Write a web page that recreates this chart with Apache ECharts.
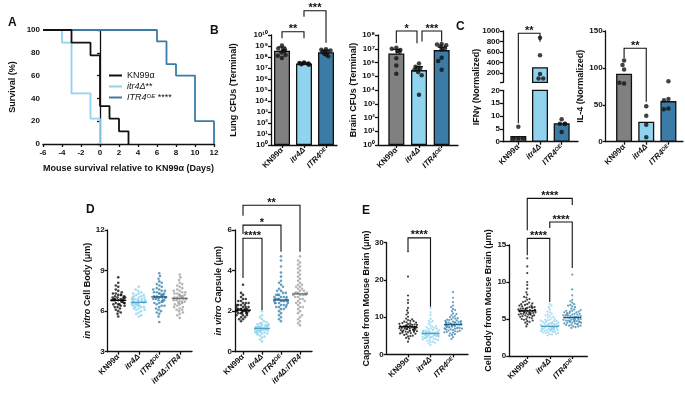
<!DOCTYPE html>
<html>
<head>
<meta charset="utf-8">
<script src="https://cdn.jsdelivr.net/npm/echarts@6/dist/echarts.min.js"></script>
<style>
html, body { margin: 0; background: #fff; }
#main { width: 685px; height: 396px; }
</style>
</head>
<body>
<div id="main"></div>
<script>
// ---- data ----
// A: survival curves (day, percent)
var kn99Days = [-6, -3, -1, 0, 1, 2, 3];
var kn99Surv = [100, 88.9, 77.8, 33.3, 22.2, 11.1, 0];
var itr4Days = [-6, -4, -3, -1, 0];
var itr4Surv = [100, 88.9, 44.4, 22.2, 0];
var oeDays = [-6, 6, 7, 8, 10, 12];
var oeSurv = [100, 90, 70, 60, 20, 0];

var cats3 = ['KN99α', 'itr4Δ', 'ITR4OE'];
var cats4 = ['KN99α', 'itr4Δ', 'ITR4OE', 'itr4Δ:ITR4'];

// B: CFUs
var lungMean = [3.7e8, 2.5e7, 2.7e8];
var lungSd = [8e8, 3.0e7, 4.2e8];
var lungKN = [1.1e9, 6e8, 5e8, 4e8, 3.5e8, 2.5e8, 1.5e8, 8e7, 1.3e8];
var lungItr = [3.2e7, 2.8e7, 2.5e7, 2.2e7, 2.0e7, 2.6e7, 2.9e7, 2.3e7];
var lungOE = [5e8, 4.5e8, 3.8e8, 3e8, 2.5e8, 2e8, 1.6e8, 1.2e8, 2.8e8];
var brainMean = [4.6e6, 2.8e5, 8e6];
var brainSd = [9e6, 5e5, 1.3e7];
var brainKN = [1.2e7, 1e7, 8e6, 7e6, 6e6, 2e6, 6e5, 1.5e5];
var brainItr = [8.5e5, 5e5, 4e5, 3.5e5, 3e5, 2e5, 1.2e5, 4.5e3];
var brainOE = [2.2e7, 2e7, 1.8e7, 1.5e7, 1.1e7, 9e6, 2.2e6, 1.3e6, 3e5];
var logTicks = [1, 1e1, 1e2, 1e3, 1e4, 1e5, 1e6, 1e7, 1e8, 1e9, 1e10];

// C: cytokines
var ifnMean = [2.2, 310, 7.2];
var ifnKN = [5.8, 1.3, 1.3, 1.3];
var ifnItr = [870, 540, 180, 95, 95];
var ifnOE = [8.7, 7.0, 6.9, 7.0, 3.8];
var ifnUpperTicks = [200, 400, 600, 800, 1000];
var il4Mean = [92, 27, 55];
var il4KN = [110, 104, 98, 79, 80];
var il4Itr = [48, 35, 23, 6];
var il4OE = [82, 58, 56, 45, 44];

// D: in vitro (um)
var dBodyKN = [6.8,7.0,6.5,7.2,6.9,6.3,7.5,6.6,7.1,6.8,6.4,7.8,6.9,6.2,7.3,6.7,8.5,6.0,7.0,6.8,5.6,7.6,6.5,6.9,7.2,6.1,7.4,6.6,5.8,7.0,6.8,6.3,8.1,6.7,7.1,6.5,7.9,6.9,6.4,7.3,5.9,6.8,7.0,6.6,7.2];
var dBodyItr = [6.6,6.8,6.4,7.0,6.7,6.2,7.3,6.5,6.9,6.6,6.1,7.5,6.8,6.3,7.1,6.7,7.8,5.9,6.9,6.6,5.6,7.2,6.5,6.7,7.0,6.0,7.4,6.4,5.8,6.9,6.6,6.3,7.6,6.5,6.8,6.2,7.1,6.7,6.4,7.0,5.7,6.6,6.9,6.5,7.2,6.3,6.8,6.1,7.3,6.6];
var dBodyOE = [7.0,7.3,6.6,7.6,7.1,6.3,7.9,6.8,7.2,7.0,6.1,8.2,7.4,6.5,7.7,7.1,8.8,5.8,7.3,6.9,5.2,8.0,6.7,7.0,7.5,6.0,8.4,6.8,5.6,7.2,7.0,6.4,8.6,6.9,7.4,6.6,7.8,7.1,6.2,7.5,5.9,7.0,7.3,6.7,7.6,6.4,7.2,6.8,8.1,7.0];
var dBodyComp = [6.9,7.2,6.5,7.5,7.0,6.2,7.8,6.7,7.1,6.9,6.0,8.1,7.3,6.4,7.6,7.0,8.7,5.8,7.2,6.8,5.5,7.9,6.6,6.9,7.4,6.1,8.3,6.7,5.7,7.1,6.9,6.3,8.5,6.8,7.3,6.5,7.7,7.0,6.1,7.4,5.9,6.9,7.2,6.6,7.5,6.3,7.1,6.7,8.0,6.9];
var dBodyMed = [6.8, 6.65, 7.05, 6.95];
var dCapKN = [2.0,2.2,1.9,2.4,2.1,1.8,2.6,2.0,2.3,2.1,1.7,2.8,2.2,1.9,2.5,2.0,3.3,1.6,2.3,2.1,1.5,2.7,1.9,2.0,2.4,1.7,2.9,2.1,1.8,2.2,2.0,1.9,2.6,2.1,2.3,1.8,2.5,2.0,1.9,2.4,1.6,2.1,2.2,2.0,2.3];
var dCapItr = [1.1,1.2,1.0,1.3,1.15,0.9,1.4,1.05,1.25,1.1,0.8,1.6,1.2,0.95,1.35,1.1,2.0,0.7,1.2,1.1,0.5,1.5,1.0,1.1,1.3,0.85,1.7,1.05,0.75,1.2,1.1,0.9,1.45,1.15,1.25,0.95,1.4,1.1,1.0,1.3,0.6,1.15,1.2,1.05,1.35,0.9,1.25,1.0,1.8,1.1];
var dCapOE = [2.5,2.7,2.3,3.0,2.6,2.1,3.3,2.4,2.8,2.5,1.9,3.7,2.7,2.2,3.1,2.6,4.7,1.8,2.8,2.5,1.5,3.5,2.3,2.5,2.9,2.0,4.2,2.4,1.7,2.7,2.5,2.2,4.5,2.6,2.9,2.3,3.4,2.6,2.1,3.0,1.6,2.5,2.8,2.4,3.2,2.2,2.7,2.4,3.9,2.6];
var dCapComp = [2.8,3.2,2.4,3.6,2.9,2.0,4.0,2.6,3.3,2.8,1.7,4.4,3.0,2.2,3.8,2.9,4.7,1.5,3.1,2.7,1.3,4.2,2.5,2.8,3.5,1.9,4.5,2.6,1.6,3.1,2.9,2.3,4.1,2.7,3.4,2.1,3.7,2.9,1.8,3.3,1.4,2.8,3.2,2.5,3.9,2.2,3.0,2.4,4.3,2.85];
var dCapMed = [2.05, 1.15, 2.55, 2.85];

// E: mouse brain (um)
var eCapKN = [7.4,6.8,8.1,5.9,7.0,9.2,6.3,7.7,5.4,8.6,6.9,7.2,10.1,6.1,7.5,4.8,8.3,6.6,7.9,5.7,11.2,7.1,6.4,8.8,5.2,7.3,9.6,6.0,7.6,4.4,8.0,6.7,12.5,7.2,5.8,9.0,6.5,7.8,3.4,8.4,6.2,7.4,10.7,5.5,7.0,13.8,6.8,8.2,4.9,7.5,15.8,6.3,9.4,5.6,7.1,20.9,6.9,8.5,5.0,7.7,27.7,6.6,14.6,7.3,6.1,8.9,4.2,7.9,11.8,6.4];
var eCapItr = [5.6,5.1,6.2,4.5,5.8,7.0,4.8,6.0,3.9,6.6,5.3,5.7,7.8,4.6,5.9,3.3,6.4,5.0,6.1,4.2,8.6,5.5,4.9,6.8,3.6,5.4,7.4,4.4,5.9,2.9,6.3,5.2,9.5,5.7,4.1,7.1,5.0,6.0,2.5,6.5,4.7,5.6,8.2,4.0,5.4,10.6,5.2,6.3,3.4,5.8,12.4,4.8,7.3,4.3,5.5,9.0,5.3,6.6,3.8,5.9,11.3,5.1,7.6,5.6,4.6,6.9,3.1,6.1,8.9,4.9];
var eCapOE = [8.0,7.4,8.8,6.5,8.3,9.9,6.9,8.6,5.8,9.4,7.6,8.1,11.0,6.7,8.5,5.2,9.1,7.2,8.7,6.2,12.2,7.9,7.0,9.6,5.6,8.0,10.5,6.4,8.4,4.6,8.9,7.3,13.1,7.8,6.1,10.0,7.1,8.5,4.1,9.2,6.8,8.0,11.6,6.0,7.7,14.0,7.5,9.0,5.4,8.2,16.7,6.9,10.3,6.3,7.9,12.7,7.4,9.3,5.9,8.4,15.2,7.2,10.8,8.1,6.6,9.7,5.0,8.7,11.9,7.0];
var eCapMed = [7.4, 5.6, 8.0];
var eBodyKN = [6.1,5.8,6.5,5.3,6.3,7.0,5.6,6.6,5.0,6.9,5.9,6.2,7.6,5.5,6.4,4.7,6.8,5.7,6.5,5.2,8.3,6.0,5.6,7.2,4.9,6.1,7.9,5.4,6.4,4.3,6.7,5.8,9.1,6.2,5.1,7.4,5.7,6.6,4.0,7.0,5.5,6.1,8.6,5.0,6.0,10.0,5.9,6.8,4.6,6.3,11.2,5.6,7.7,5.3,6.2,13.2,5.9,7.1,4.8,6.4,12.1,5.8,9.6,6.1,5.4,7.3,4.5,6.6,8.0,5.7];
var eBodyItr = [4.0,3.7,4.4,3.4,4.2,4.9,3.6,4.5,3.2,4.8,3.9,4.1,5.4,3.5,4.3,3.0,4.7,3.8,4.4,3.3,5.9,4.0,3.6,5.1,3.1,4.0,5.6,3.4,4.3,2.8,4.6,3.8,6.3,4.1,3.3,5.2,3.7,4.5,2.9,4.9,3.5,4.0,6.0,3.2,3.9,7.0,3.8,4.7,3.0,4.2,6.6,3.6,5.3,3.4,4.1,5.7,3.9,4.8,3.1,4.3,6.8,3.7,5.0,4.0,3.5,4.6,3.3,4.4,5.5,3.6];
var eBodyOE = [5.2,4.9,5.6,4.5,5.4,6.1,4.7,5.7,4.2,6.0,5.0,5.3,6.7,4.6,5.5,4.0,5.9,4.8,5.6,4.4,7.2,5.1,4.7,6.3,4.1,5.2,6.9,4.5,5.5,3.8,5.8,4.9,7.6,5.3,4.3,6.4,4.8,5.7,3.9,6.1,4.6,5.2,7.0,4.2,5.0,9.0,4.9,5.9,4.0,5.4,11.0,4.7,6.6,4.4,5.3,8.2,5.0,6.0,4.1,5.5,7.4,4.8,6.2,5.1,4.5,5.8,4.3,5.6,6.8,4.6];
var eBodyMed = [6.1, 4.0, 5.2];

// significance brackets: [fromCat, toCat, yBar, yLeftLeg, yRightLeg, text, dxLeft, dxRight]
var lungSig = [[0, 1, 2e10, 5e9, 5e9, '**', 0, 0], [1, 2, 1.6e12, 4.6e11, 2e9, '***', 0, 0]];
var brainSig = [[0, 1, 1.95e8, 2.6e7, 2.5e7, '*', 0, -2], [1, 2, 1.95e8, 3.3e7, 3.3e7, '***', 3, 0]];
var ifnSig = [[0, 1, 42.2, 7.2, 38.9, '**', 0, 0]];
var il4Sig = [[0, 1, 126.6, 113, 54, '**', 0, 0]];
var dCapSig = [[0, 1, 5.59, 3.63, 2.05, '****', 0, 0], [0, 2, 6.24, 5.8, 4.93, '*', 0, 0], [0, 3, 7.22, 6.7, 4.93, '**', 0, 0]];
var eCapSig = [[0, 1, 31.3, 28, 12.8, '****', 0, 0]];
var eBodySig = [[0, 1, 15.9, 13.6, 7.3, '****', 0, 0], [1, 2, 18.1, 17.3, 11.9, '****', 0, 0], [0, 2, 21.3, 17, 20.4, '****', 0, 0]];

// ---- styling ----
var FONT = 'Liberation Sans';
var INK = '#111';
var GRAY = '#808080', LIGHT = '#8fd3ef', TEAL = '#3a7ca5', COMP = '#a3a3a3';
var DOT = [INK, LIGHT, '#3f87b2', COMP];
var MED = ['#000', '#4f9fc4', '#1d5a80', '#6a6a6a'];
var AX = {color: INK, width: 1.3};
var RICH = {
  n: {fontFamily: FONT, fontSize: 8, fontWeight: 'bold', color: INK},
  i: {fontFamily: FONT, fontSize: 8, fontWeight: 'bold', fontStyle: 'italic', color: INK},
  s: {fontFamily: FONT, fontSize: 5.5, fontWeight: 'bold', fontStyle: 'italic', color: INK, verticalAlign: 'top'},
  t: {fontFamily: FONT, fontSize: 9, fontWeight: 'bold', color: INK},
  ti: {fontFamily: FONT, fontSize: 9, fontWeight: 'bold', fontStyle: 'italic', color: INK}
};
var CAT_LABEL = {
  'KN99α': '{n|KN99α}',
  'itr4Δ': '{i|itr4Δ}',
  'ITR4OE': '{i|ITR4}{s|OE}',
  'itr4Δ:ITR4': '{i|itr4Δ:ITR4}'
};
var SUP = '⁰¹²³⁴⁵⁶⁷⁸⁹';
function logFmt(v) {
  var e = String(Math.round(Math.log10(v)));
  var s = '';
  for (var k = 0; k < e.length; k++) s += SUP[+e[k]];
  return '10' + s;
}
function plainFmt(v) { return String(v); }

var grids = [], xAxes = [], yAxes = [], series = [];

// frame grid: draws the visible y axis and the x axis line
function addFrame(x0, x1, top, bottom, y, showX) {
  grids.push({left: x0, top: top, width: x1 - x0, height: bottom - top});
  var gi = grids.length - 1;
  xAxes.push({gridIndex: gi, type: 'value', min: 0, max: 1, show: showX !== false,
    axisLine: {lineStyle: AX}, axisTick: {show: false}, axisLabel: {show: false}, splitLine: {show: false}});
  yAxes.push({gridIndex: gi, type: y.type || 'value', logBase: 10, min: y.min, max: y.max, interval: y.interval,
    name: y.name || '', nameLocation: 'middle', nameGap: y.gap || 20, nameRotate: 90,
    nameTextStyle: {fontFamily: FONT, fontSize: 9, fontWeight: 'bold', color: INK, rich: RICH, padding: y.namePad || 0},
    axisLine: {show: true, lineStyle: AX},
    axisTick: {show: true, length: 3, lineStyle: AX, customValues: y.ticks},
    axisLabel: {fontFamily: FONT, fontSize: 8, fontWeight: 'bold', color: INK, margin: 3,
      formatter: y.fmt || plainFmt, customValues: y.labels},
    splitLine: {show: false}});
  return gi;
}

// data grid: categories, ticks and marks
function addData(x0, w, top, bottom, cats, y, jitter, hideX) {
  grids.push({left: x0, top: top, width: w, height: bottom - top});
  var gi = grids.length - 1;
  xAxes.push({gridIndex: gi, type: 'category', data: cats, show: !hideX,
    jitter: jitter || 0, jitterOverlap: false, jitterMargin: 0.2,
    axisLine: {show: false},
    axisTick: {show: true, alignWithLabel: true, length: 3, lineStyle: AX},
    axisLabel: {rotate: 45, margin: 4, interval: 0, formatter: function (v) { return CAT_LABEL[v]; }, rich: RICH}});
  yAxes.push({gridIndex: gi, type: y.type || 'value', logBase: 10, min: y.min, max: y.max, show: false});
  return gi;
}

function pts(groups) {
  var out = [];
  groups.forEach(function (g, ci) {
    g.forEach(function (v) { out.push([ci, v]); });
  });
  return out;
}

function dots(gi, groups, size, colors) {
  series.push({type: 'scatter', xAxisIndex: gi, yAxisIndex: gi, symbolSize: size, z: 5,
    data: pts(groups).map(function (p) { return {value: p, itemStyle: {color: colors[p[0]]}}; })});
}

function bars(gi, means, colors) {
  series.push({type: 'bar', xAxisIndex: gi, yAxisIndex: gi, barWidth: 16, clip: true,
    data: means.map(function (v, i) {
      return {value: v, itemStyle: {color: colors[i], borderColor: INK, borderWidth: 1.3}};
    })});
}

function errBars(gi, means, tops) {
  series.push({type: 'custom', xAxisIndex: gi, yAxisIndex: gi, z: 6, silent: true,
    data: means.map(function (m, i) { return [i, m, tops[i]]; }),
    renderItem: function (params, api) {
      var a = api.coord([api.value(0), api.value(1)]);
      var b = api.coord([api.value(0), api.value(2)]);
      return {type: 'group', children: [
        {type: 'line', shape: {x1: a[0], y1: a[1], x2: b[0], y2: b[1]}, style: {stroke: INK, lineWidth: 1.2}},
        {type: 'line', shape: {x1: b[0] - 4, y1: b[1], x2: b[0] + 4, y2: b[1]}, style: {stroke: INK, lineWidth: 1.2}}
      ]};
    }});
}

function medians(gi, meds, half) {
  series.push({type: 'custom', xAxisIndex: gi, yAxisIndex: gi, z: 7, silent: true,
    data: meds.map(function (m, i) { return [i, m]; }),
    renderItem: function (params, api) {
      var c = api.coord([api.value(0), api.value(1)]);
      return {type: 'line', shape: {x1: c[0] - half, y1: c[1], x2: c[0] + half, y2: c[1]},
        style: {stroke: MED[params.dataIndex], lineWidth: 1.3}};
    }});
}

function brackets(gi, list) {
  series.push({type: 'custom', xAxisIndex: gi, yAxisIndex: gi, z: 8, silent: true, clip: false,
    data: list.map(function (b) { return [b[0], b[2]]; }),
    renderItem: function (params, api) {
      var b = list[params.dataIndex];
      var p0 = api.coord([b[0], b[2]]), p1 = api.coord([b[1], b[2]]);
      var l = api.coord([b[0], b[3]]), r = api.coord([b[1], b[4]]);
      var x0 = p0[0] + b[6], x1 = p1[0] + b[7];
      return {type: 'group', children: [
        {type: 'polyline', shape: {points: [[x0, l[1]], [x0, p0[1]], [x1, p0[1]], [x1, r[1]]]},
          style: {stroke: INK, lineWidth: 1.1, fill: null}},
        {type: 'text', style: {text: b[5], x: (x0 + x1) / 2, y: p0[1] + 3, align: 'center', verticalAlign: 'bottom',
          fontFamily: FONT, fontSize: 11, fontWeight: 'bold', fill: INK}}
      ]};
    }});
}

// ---- A: survival ----
grids.push({left: 43, top: 30, width: 171, height: 114});
xAxes.push({gridIndex: 0, type: 'value', min: -6, max: 12, interval: 2,
  name: 'Mouse survival relative to KN99α (Days)', nameLocation: 'middle', nameGap: 20,
  nameTextStyle: {fontFamily: FONT, fontSize: 9, fontWeight: 'bold', color: INK},
  axisLine: {lineStyle: AX}, axisTick: {length: 3, lineStyle: AX},
  axisLabel: {fontFamily: FONT, fontSize: 8, fontWeight: 'bold', color: INK, margin: 5}, splitLine: {show: false}});
yAxes.push({gridIndex: 0, type: 'value', min: 0, max: 100, interval: 20,
  name: 'Survival (%)', nameLocation: 'middle', nameGap: 26, nameRotate: 90,
  nameTextStyle: {fontFamily: FONT, fontSize: 9, fontWeight: 'bold', color: INK},
  axisLine: {show: true, lineStyle: AX}, axisTick: {show: true, length: 3, lineStyle: AX},
  axisLabel: {fontFamily: FONT, fontSize: 8, fontWeight: 'bold', color: INK, margin: 3}, splitLine: {show: false}});

function curve(name, d, s, color, z) {
  series.push({type: 'line', name: name, xAxisIndex: 0, yAxisIndex: 0, step: 'end', symbol: 'none', z: z,
    lineStyle: {color: color, width: 1.8}, itemStyle: {color: color},
    data: d.map(function (x, i) { return [x, s[i]]; })});
}
curve('ITR4OE', oeDays, oeSurv, TEAL, 2);
curve('itr4Δ', itr4Days, itr4Surv, LIGHT, 3);
curve('KN99α', kn99Days, kn99Surv, INK, 4);

// ---- B: lung / brain ----
addFrame(271, 337, 35, 145, {type: 'log', min: 1, max: 1e10, labels: logTicks, ticks: logTicks, fmt: logFmt,
  name: 'Lung CFUs (Terminal)', gap: 33});
var gLung = addData(271, 66, 35, 145, cats3, {type: 'log', min: 1, max: 1e10}, 11);
bars(gLung, lungMean, [GRAY, LIGHT, TEAL]);
errBars(gLung, lungMean, lungSd);
dots(gLung, [lungKN, lungItr, lungOE], 4.5, [INK, INK, INK]);
brackets(gLung, lungSig);

addFrame(378, 458, 35, 145, {type: 'log', min: 1, max: 1e8, labels: logTicks.slice(0, 9), ticks: logTicks.slice(0, 9), fmt: logFmt,
  name: 'Brain CFUs (Terminal)', gap: 20});
var gBrain = addData(385, 68, 35, 145, cats3, {type: 'log', min: 1, max: 1e8}, 11);
bars(gBrain, brainMean, [GRAY, LIGHT, TEAL]);
errBars(gBrain, brainMean, brainSd);
dots(gBrain, [brainKN, brainItr, brainOE], 4.5, [INK, INK, INK]);
brackets(gBrain, brainSig);

// ---- C: IFNg (broken axis) / IL-4 ----
addFrame(503, 578, 31, 82.4, {min: 20, max: 1000, labels: ifnUpperTicks, ticks: [20].concat(ifnUpperTicks)}, false);
var gIfnU = addData(507.5, 65, 31, 82.4, cats3, {min: 20, max: 1000}, 10, true);
bars(gIfnU, ifnMean, [GRAY, LIGHT, TEAL]);
dots(gIfnU, [[], ifnItr, []], 4.5, [INK, INK, INK]);
addFrame(503, 578, 90.3, 141.7, {min: 0, max: 20, interval: 5, name: 'IFNγ (Normalized)', gap: 22, namePad: [0, 0, 0, 58]});
var gIfn = addData(507.5, 65, 90.3, 141.7, cats3, {min: 0, max: 20}, 10);
bars(gIfn, ifnMean, [GRAY, LIGHT, TEAL]);
dots(gIfn, [ifnKN, [], ifnOE], 4.5, [INK, INK, INK]);
brackets(gIfn, ifnSig);

addFrame(605.7, 683, 31, 141.7, {min: 0, max: 150, interval: 50, name: 'IL-4 (Normalized)', gap: 17});
var gIl4 = addData(613, 66.5, 31, 141.7, cats3, {min: 0, max: 150}, 10);
bars(gIl4, il4Mean, [GRAY, LIGHT, TEAL]);
dots(gIl4, [il4KN, il4Itr, il4OE], 4.5, [INK, INK, INK]);
brackets(gIl4, il4Sig);

// ---- D: in vitro ----
addFrame(107.7, 192, 230, 351.7, {min: 3, max: 12, interval: 3, name: '{ti|in vitro} {t|Cell Body (μm)}', gap: 14});
var gDb = addData(108, 82, 230, 351.7, cats4, {min: 3, max: 12}, 14);
dots(gDb, [dBodyKN, dBodyItr, dBodyOE, dBodyComp], 2.6, DOT);
medians(gDb, dBodyMed, 8);

addFrame(235, 312, 230, 351.7, {min: 0, max: 6, interval: 2, name: '{ti|in vitro} {t|Capsule (μm)}', gap: 12});
var gDc = addData(233.5, 76, 230, 351.7, cats4, {min: 0, max: 6}, 14);
dots(gDc, [dCapKN, dCapItr, dCapOE, dCapComp], 2.6, DOT);
medians(gDc, dCapMed, 8);
brackets(gDc, dCapSig);

// ---- E: mouse brain ----
addFrame(386.7, 468, 242.7, 354.3, {min: 0, max: 30, interval: 10, name: 'Capsule from Mouse Brain (μm)', gap: 12});
var gEc = addData(396.75, 67.5, 242.7, 354.3, cats3, {min: 0, max: 30}, 18);
dots(gEc, [eCapKN, eCapItr, eCapOE], 2.2, DOT);
medians(gEc, eCapMed, 9);
brackets(gEc, eCapSig);

addFrame(509.3, 587.3, 245, 356, {min: 0, max: 15, interval: 5, name: 'Cell Body from Mouse Brain (μm)', gap: 12});
var gEb = addData(516, 67.5, 245, 356, cats3, {min: 0, max: 15}, 18);
dots(gEb, [eBodyKN, eBodyItr, eBodyOE], 2.2, DOT);
medians(gEb, eBodyMed, 9);
brackets(gEb, eBodySig);

var letter = {fontFamily: FONT, fontSize: 12, fontWeight: 'bold', color: INK};
var option = {
  animation: false,
  backgroundColor: '#fff',
  title: [
    {text: 'A', left: 3, top: 12, textStyle: letter},
    {text: 'B', left: 205, top: 20, textStyle: letter},
    {text: 'C', left: 451, top: 16, textStyle: letter},
    {text: 'D', left: 81, top: 199, textStyle: letter},
    {text: 'E', left: 357, top: 200, textStyle: letter}
  ],
  legend: {
    orient: 'vertical', left: 104, top: 66, itemWidth: 13, itemHeight: 2, itemGap: 2, icon: 'rect',
    data: ['KN99α', 'itr4Δ', 'ITR4OE'],
    formatter: function (n) {
      return {'KN99α': '{l|KN99α}', 'itr4Δ': '{li|itr4Δ}{l|**}', 'ITR4OE': '{li|ITR4}{ls|OE}{l| ****}'}[n];
    },
    textStyle: {rich: {
      l: {fontFamily: FONT, fontSize: 9, color: INK},
      li: {fontFamily: FONT, fontSize: 9, fontStyle: 'italic', color: INK},
      ls: {fontFamily: FONT, fontSize: 6, fontStyle: 'italic', color: INK, verticalAlign: 'top'}
    }}
  },
  grid: grids,
  xAxis: xAxes,
  yAxis: yAxes,
  series: series
};

var chart = echarts.init(document.getElementById('main'));
chart.setOption(option);
</script>
</body>
</html>
